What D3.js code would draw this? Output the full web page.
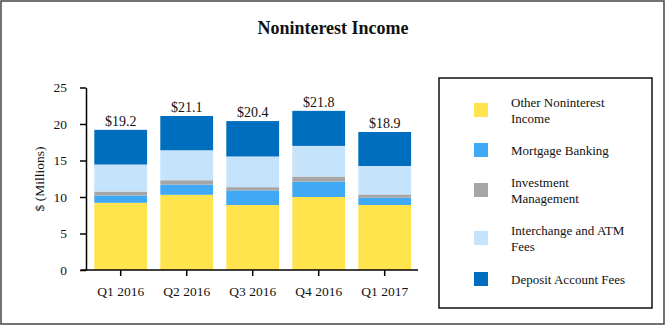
<!DOCTYPE html>
<html>
<head>
<meta charset="utf-8">
<script src="https://cdn.jsdelivr.net/npm/d3@7"></script>
<style>
  html, body { margin: 0; padding: 0; background: #fff; }
  svg { display: block; }
  text { font-family: "Liberation Serif", "Times New Roman", serif; fill: #111; }
</style>
</head>
<body>
<svg id="chart" width="666" height="326"></svg>
<script>
const categories = ["Q1 2016", "Q2 2016", "Q3 2016", "Q4 2016", "Q1 2017"];
const otherNoninterest = [9.2, 10.3, 8.9, 10.0, 8.9];
const mortgageBanking = [1.0, 1.4, 2.0, 2.1, 1.0];
const investmentMgmt = [0.55, 0.6, 0.45, 0.7, 0.45];
const interchangeATM = [3.7, 4.1, 4.2, 4.2, 3.9];
const depositFees = [4.75, 4.7, 4.85, 4.8, 4.65];
const totalLabels = ["$19.2", "$21.1", "$20.4", "$21.8", "$18.9"];
const yTicks = [0, 5, 10, 15, 20, 25];
const seriesNames = ["Other Noninterest Income", "Mortgage Banking", "Investment Management", "Interchange and ATM Fees", "Deposit Account Fees"];
const legendLines = [["Other Noninterest", "Income"], ["Mortgage Banking"], ["Investment", "Management"], ["Interchange and ATM", "Fees"], ["Deposit Account Fees"]];
const colors = ["#FFE44D", "#3FA9F5", "#A6A6A6", "#C5E3FA", "#006EBF"];

(function () {
const seriesValues = [otherNoninterest, mortgageBanking, investmentMgmt, interchangeATM, depositFees];
const table = categories.map((c, i) => {
  const row = { cat: c };
  seriesNames.forEach((s, k) => row[s] = seriesValues[k][i]);
  return row;
});
const stacked = d3.stack().keys(seriesNames)(table);

const svg = d3.select("#chart");

// outer frame
svg.append("rect").attr("x", 1).attr("y", 1).attr("width", 663).attr("height", 323)
  .attr("fill", "none").attr("stroke", "#444").attr("stroke-width", 1.5);

// title
svg.append("text").attr("x", 333).attr("y", 34).attr("text-anchor", "middle")
  .style("font-size", "18px").style("font-weight", "bold").text("Noninterest Income");

const x = d3.scaleBand().domain(categories).range([87.7, 417.7]).paddingInner(0.2).paddingOuter(0.1);
const y = d3.scaleLinear().domain([0, 25]).range([270, 87.5]);

// bars
svg.append("g").selectAll("g").data(stacked).join("g")
  .attr("fill", (d, k) => colors[k])
  .selectAll("rect").data(d => d).join("rect")
  .attr("x", d => x(d.data.cat))
  .attr("width", x.bandwidth())
  .attr("y", d => y(d[1]))
  .attr("height", d => y(d[0]) - y(d[1]));

// total labels
const topLayer = stacked[stacked.length - 1];
svg.append("g").selectAll("text").data(topLayer).join("text")
  .attr("x", d => x(d.data.cat) + x.bandwidth() / 2)
  .attr("y", d => y(d[1]) - 4)
  .attr("text-anchor", "middle").style("font-size", "14px")
  .text((d, i) => totalLabels[i]);

// y axis
const yAxis = d3.axisLeft(y).tickValues(yTicks).tickSize(6).tickSizeOuter(0).tickPadding(13);
const gy = svg.append("g").attr("transform", "translate(86,0)").call(yAxis);
gy.selectAll("text").style("font-size", "13.5px").style("font-family", "Liberation Serif").attr("fill", "#111");
gy.selectAll("line, path").attr("stroke", "#000").attr("stroke-width", 1.5);

// x axis
const xAxis = d3.axisBottom(x).tickSize(6).tickSizeOuter(0).tickPadding(10);
const gx = svg.append("g").attr("transform", "translate(0,270)").call(xAxis);
gx.select("path.domain").attr("d", "M81,0H418");
gx.selectAll("text").style("font-size", "13.5px").style("font-family", "Liberation Serif").attr("fill", "#111");
gx.selectAll("line, path").attr("stroke", "#000").attr("stroke-width", 1.5);

// y label
svg.append("text").attr("transform", "translate(44,179) rotate(-90)")
  .attr("text-anchor", "middle").style("font-size", "13.5px").text("$ (Millions)");

// legend
svg.append("rect").attr("x", 439).attr("y", 78).attr("width", 213).attr("height", 230)
  .attr("fill", "none").attr("stroke", "#111").attr("stroke-width", 1.5);
const legendY = [110, 150, 190, 238, 279];
const lg = svg.append("g");
seriesNames.forEach((s, k) => {
  lg.append("rect").attr("x", 474).attr("y", legendY[k] - 7).attr("width", 14).attr("height", 14).attr("fill", colors[k]);
  const lines = legendLines[k];
  const t = lg.append("text").attr("x", 511).style("font-size", "13px");
  lines.forEach((ln, j) => {
    t.append("tspan").attr("x", 511)
      .attr("y", legendY[k] + 4.5 + (j - (lines.length - 1) / 2) * 16)
      .text(ln);
  });
});
})();
</script>
</body>
</html>
